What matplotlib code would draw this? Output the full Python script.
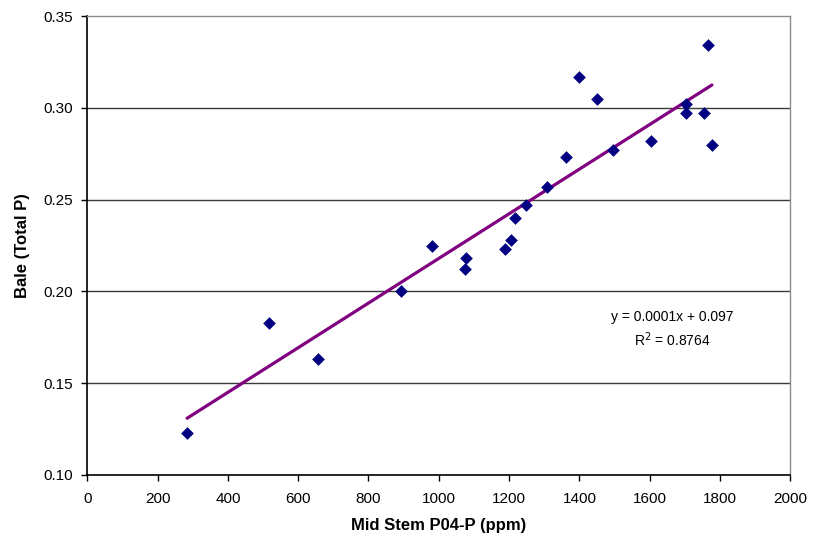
import numpy as np
import matplotlib
matplotlib.use("Agg")
import matplotlib.pyplot as plt

# ---------- data ----------
mid_stem_p = [284, 517, 657, 892, 980, 1077, 1075, 1187, 1206, 1217, 1248,
              1307, 1363, 1398, 1449, 1495, 1603, 1702, 1702, 1755, 1767, 1777]
bale_total_p = [0.123, 0.183, 0.163, 0.200, 0.225, 0.218, 0.212, 0.223, 0.228,
                0.240, 0.247, 0.257, 0.273, 0.317, 0.305, 0.277, 0.282, 0.302,
                0.297, 0.297, 0.334, 0.280]

x_ticks = [0, 200, 400, 600, 800, 1000, 1200, 1400, 1600, 1800, 2000]
y_ticks = [0.10, 0.15, 0.20, 0.25, 0.30, 0.35]
# ----------------------------------------------

plt.rcParams["font.family"] = ["Liberation Sans", "DejaVu Sans"]

x = np.array(mid_stem_p)
y = np.array(bale_total_p)

fig = plt.figure(figsize=(8.21, 5.41), dpi=100)
ax = fig.add_axes([0.1063, 0.122, 0.8563, 0.8484])

for yt in y_ticks[1:-1]:
    ax.axhline(yt, color="#3a3a3a", linewidth=1.0, zorder=1)

ax.scatter(x, y, marker="D", s=42, color="#000080", zorder=3, linewidths=0)

# linear trend line over the data range
slope, intercept = np.polyfit(x, y, 1)
xs = np.array([x.min(), x.max()])
ax.plot(xs, slope * xs + intercept, color="#800080", linewidth=2.3,
        solid_capstyle="round", zorder=2)

ax.text(1663, 0.186, "y = 0.0001x + 0.097", fontsize=10, ha="center", va="center")
ax.text(1663, 0.1735, "R$^2$ = 0.8764", fontsize=10, ha="center", va="center")

ax.set_xlim(0, 2000)
ax.set_ylim(0.10, 0.35)
ax.set_xticks(x_ticks)
ax.set_yticks(y_ticks)
ax.set_yticklabels([f"{v:.2f}" for v in y_ticks])
ax.tick_params(direction="out", length=4, width=1, labelsize=11, color="black")
ax.tick_params(axis="y", pad=6)
ax.tick_params(axis="x", pad=8)

for side in ["left", "bottom"]:
    ax.spines[side].set_color("black")
    ax.spines[side].set_linewidth(1.2)
for side in ["top", "right"]:
    ax.spines[side].set_color("#8c8c8c")
    ax.spines[side].set_linewidth(1.0)

ax.set_xlabel("Mid Stem P04-P (ppm)", fontsize=12, fontweight="bold", labelpad=9)
ax.set_ylabel("Bale (Total P)", fontsize=12, fontweight="bold", labelpad=10)

fig.savefig("out.png", dpi=100)
